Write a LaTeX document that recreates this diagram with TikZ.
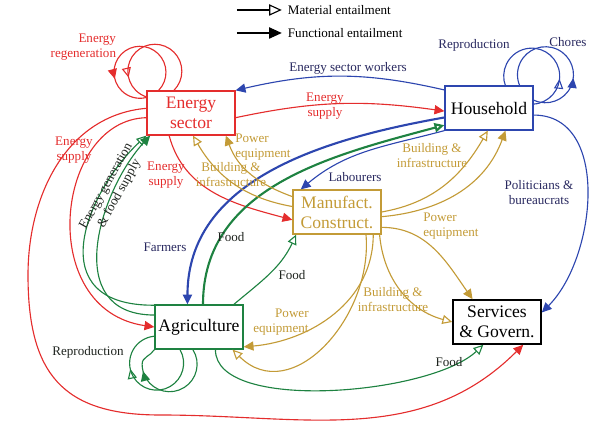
\documentclass[tikz,border=0pt]{standalone}
\usepackage{fontspec}
\setmainfont{Liberation Serif}
\usetikzlibrary{arrows.meta,decorations.markings}

\definecolor{enred}{RGB}{228,45,45}
\definecolor{hhblue}{RGB}{45,70,175}
\definecolor{agreen}{RGB}{30,130,65}
\definecolor{mcgold}{RGB}{195,155,55}
\definecolor{txtblue}{RGB}{40,40,95}
\definecolor{txtdark}{RGB}{30,35,30}

\begin{document}
\begin{tikzpicture}[x=0.025cm, y=0.025cm, line width=0.8pt,
	every node/.style={font=\fontsize{9.3}{10.7}\selectfont, align=center, inner sep=1pt},
	sector/.style={draw, line width=0.9pt, minimum width=2.2cm, minimum height=1.1cm, inner sep=0pt, font=\fontsize{12.5}{14.2}\selectfont},
	fun/.style={-{Triangle[length=7pt, width=6.5pt]}},
	mat/.style={-{Triangle[open, length=7pt, width=6.5pt]}},
	funloop/.style={postaction={decorate}, decoration={markings, mark=at position #1 with {\arrow{Triangle[length=7pt, width=6.5pt]}}}},
	matloop/.style={postaction={decorate}, decoration={markings, mark=at position #1 with {\arrow{Triangle[open, length=7pt, width=6.5pt]}}}},
	heavy/.style={line width=1.5pt}]
	\useasboundingbox (0,0) rectangle (603,425);

	% sectors
	\node[sector, draw=enred, text=enred] (energy) at (191,312) {Energy\\sector};
	\node[sector, draw=hhblue] (house) at (489,317) {Household};
	\node[sector, draw=mcgold, text=mcgold] (manuf) at (337,213) {Manufact.\\Construct.};
	\node[sector, draw=agreen] (agri) at (199,98) {Agriculture};
	\node[sector, draw=black, line width=1.1pt] (serv) at (497,103) {Services\\\& Govern.};

	% legend
	\node[anchor=west] (matkey) at (286,415) {Material entailment};
	\node[anchor=west] (funkey) at (286,392) {Functional entailment};
	\draw[-{Triangle[open, length=9pt, width=8pt]}] ([xshift=-35pt]matkey.west) -- ([xshift=-3pt]matkey.west);
	\draw[-{Triangle[length=9pt, width=8pt]}] ([xshift=-35pt]funkey.west) -- ([xshift=-3pt]funkey.west);

	% energy flows
	\draw[fun, enred] (energy.-6) to[out=12, in=172] (house.184);
	\draw[fun, enred] (energy.186) .. controls (55,305) and (35,115) .. (agri.west);
	\draw[fun, enred] (energy.174) to[out=185, in=90] (28,150) to[out=-90, in=180, looseness=1.3] (160,10) to[out=0, in=225] (serv.-41);
	\draw[fun, enred] (energy.-134) to[out=-75, in=165] (manuf.190);
	\draw[funloop=0.73, enred] (energy.145) arc[start angle=-44, end angle=283, radius=26];
	\draw[matloop=0.8, enred] (energy.127) arc[start angle=-45, end angle=253, radius=27];

	% labour flows
	\draw[fun, hhblue] (house.158) to[out=167, in=13] (energy.north east);
	\draw[fun, hhblue] (house.south west) to[out=195, in=40] (manuf.148);
	\draw[fun, hhblue, heavy] (house.192) to[out=190, in=90] (agri.117);
	\draw[fun, hhblue] (house.-9) to[out=0, in=45] (serv.12);
	\draw[matloop=0.28, hhblue] (house.5) arc[start angle=-86, end angle=201, radius=28];
	\draw[funloop=0.34, hhblue] (house.10) arc[start angle=-115, end angle=203, radius=28];

	% food flows
	\draw[mat, agreen, heavy] (agri.80) to[out=90, in=195] (house.201);
	\draw[mat, agreen] (agri.33) to[out=40, in=245] (manuf.209);
	\draw[mat, agreen] (agri.154) .. controls (40,119) and (85,232) .. (energy.south west);
	\draw[fun, agreen] (agri.165) .. controls (60,110) and (100,235) .. (energy.209);
	\draw[mat, agreen] (agri.-54) .. controls (215,12) and (430,30) .. (serv.-121);
	\draw[matloop=0.67, agreen] (agri.-130) arc[start angle=30, end angle=-265, radius=27];
	\draw[funloop=0.78, agreen] (agri.-105) arc[start angle=32, end angle=-180, radius=27.5] to[out=90, in=-120] (agri.south west);

	% manufactured flows
	\draw[fun, mcgold] (manuf.161) to[out=160, in=-70] (energy.-33);
	\draw[mat, mcgold] (manuf.173) to[out=170, in=-60] (energy.-85);
	\draw[mat, mcgold] (manuf.east) to[out=10, in=-120] (house.-93);
	\draw[fun, mcgold] (manuf.-6) to[out=5, in=-110] (house.-54);
	\draw[fun, mcgold] (manuf.-19) to[out=0, in=125] (serv.137);
	\draw[mat, mcgold] (manuf.-28) to[out=-85, in=165] (serv.west);
	\draw[fun, mcgold] (manuf.-32) to[out=-90, in=5] (agri.-24);
	\draw[mat, mcgold] (manuf.-38) to[out=-85, in=-45, looseness=1.2] (agri.-34);

	% labels
	\node[enred, anchor=east, align=right] (lregen) at (118,378) {Energy\\regeneration};
	\node[enred] (lsupA) at (74,275) {Energy\\supply};
	\node[enred] (lsupM) at (166,250) {Energy\\supply};
	\node[enred] (lsupH) at (325,319) {Energy\\supply};
	\node[txtblue] (lwork) at (348,357) {Energy sector workers};
	\node[txtblue] (lrepH) at (474,380) {Reproduction};
	\node[txtblue] (lchore) at (568,383) {Chores};
	\node[txtblue] (llab) at (355,248) {Labourers};
	\node[txtblue] (lfarm) at (165,178) {Farmers};
	\node[txtblue] (lpol) at (539,232) {Politicians \&\\bureaucrats};
	\node[mcgold, align=left] (lpowE) at (263,278) {Power\\equipment};
	\node[mcgold] (lbldE) at (231,250) {Building \&\\infrastructure};
	\node[mcgold] (lbldH) at (432,269) {Building \&\\infrastructure};
	\node[mcgold, align=left] (lpowS) at (451,199) {Power\\equipment};
	\node[mcgold, align=right] (lpowA) at (281,103) {Power\\equipment};
	\node[mcgold] (lbldS) at (393,125) {Building \&\\infrastructure};
	\node[txtdark] (lfoodH) at (231,188) {Food};
	\node[txtdark] (lfoodM) at (292,150) {Food};
	\node[txtdark] (lfoodS) at (449,63) {Food};
	\node[txtdark] (lrepA) at (88,73) {Reproduction};
	\node[txtdark, rotate=61] (lgen) at (113,235) {Energy generation\\\& food supply};
\end{tikzpicture}
\end{document}
